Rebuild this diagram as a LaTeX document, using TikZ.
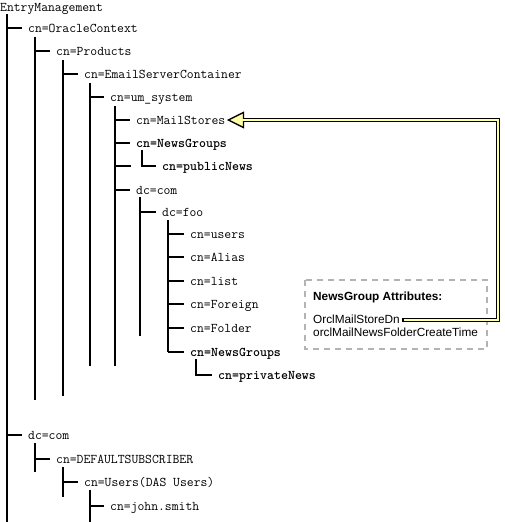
\documentclass[tikz,border=0pt]{standalone}
\usepackage{fontspec}
\setmainfont{Liberation Sans}
\definecolor{arrowyellow}{HTML}{FFFFA8}
\definecolor{boxgray}{HTML}{B3B3B3}
\tikzset{
  entry/.style={anchor=west, inner sep=0pt, text height=10pt, text depth=2pt,
                font=\ttfamily\fontsize{13.3}{15}\selectfont},
  bentry/.style={entry, font=\ttfamily\bfseries\fontsize{13.3}{15}\selectfont},
  attr/.style={anchor=base west, inner sep=0pt, font=\fontsize{11.8}{14}\selectfont},
  battr/.style={attr, font=\bfseries\fontsize{11.8}{14}\selectfont},
  tree/.style={line width=1.1pt, black},
  attrbox/.style={draw=boxgray, line width=2.4pt, dash pattern=on 6pt off 5pt},
}
\begin{document}
\begin{tikzpicture}[x=1pt,y=-1pt]
\useasboundingbox (0,0) rectangle (504,522);
% ---- entries
\node[entry]  (em)  at (0,7)    {EntryManagement};
\node[entry]  (oc)  at (28,28)  {cn=OracleContext};
\node[entry]  (pr)  at (56,51)  {cn=Products};
\node[entry]  (esc) at (84,74)  {cn=EmailServerContainer};
\node[entry]  (um)  at (110,97) {cn=um\_system};
\node[entry]  (ms)  at (136,120) {cn=MailStores};
\node[bentry] (ng1) at (136,143) {cn=NewsGroups};
\node[bentry] (pn)  at (162,166) {cn=publicNews};
\node[entry]  (dc1) at (136,190) {dc=com};
\node[entry]  (foo) at (162,212) {dc=foo};
\node[entry]  (us)  at (190,234) {cn=users};
\node[entry]  (al)  at (190,257) {cn=Alias};
\node[entry]  (li)  at (190,281) {cn=list};
\node[entry]  (fo)  at (190,304) {cn=Foreign};
\node[entry]  (fd)  at (190,328) {cn=Folder};
\node[bentry] (ng2) at (190,352) {cn=NewsGroups};
\node[bentry] (prn) at (218,375) {cn=privateNews};
\node[entry]  (dc2) at (28,435) {dc=com};
\node[entry]  (ds)  at (56,459) {cn=DEFAULTSUBSCRIBER};
\node[entry]  (dsu) at (84,482) {cn=Users(DAS Users)};
\node[entry]  (js)  at (110,506) {cn=john.smith};
% ---- vertical tree lines
\coordinate (v0t) at (7,14);    \coordinate (v0b) at (7,522);
\coordinate (v1t) at (35,37);   \coordinate (v1b) at (35,400);
\coordinate (v2t) at (63,60);   \coordinate (v2b) at (63,396);
\coordinate (v3t) at (90,83);   \coordinate (v3b) at (90,366);
\coordinate (v4t) at (115,106); \coordinate (v4b) at (115,366);
\coordinate (c1t) at (142,150);
\coordinate (v5t) at (140,197); \coordinate (v5b) at (140,336);
\coordinate (v6t) at (168,220); \coordinate (v6b) at (168,352);
\coordinate (c2t) at (196,359);
\coordinate (w1t) at (35,443);  \coordinate (w1b) at (35,472);
\coordinate (w2t) at (63,467);  \coordinate (w2b) at (63,497);
\coordinate (w3t) at (90,490);  \coordinate (w3b) at (90,522);
\foreach \v in {v0,v1,v2,v3,v4,v5,v6,w1,w2,w3}
  \draw[tree] (\v t) -- (\v b);
% ---- ticks
\foreach \v/\n in {v0/oc, v0/dc2, v1/pr, v2/esc, v3/um, v4/ms, v4/ng1, v4/dc1,
                   v5/foo, v6/us, v6/al, v6/li, v6/fo, v6/fd, v6/ng2,
                   w1/ds, w2/dsu, w3/js}
  \draw[tree] (\v t |- \n.west) -- ([xshift=-6pt]\n.west);
\coordinate (empty) at (131,166);
\draw[tree] (v4t |- empty) -- (empty);
\draw[tree] (c1t) |- ([xshift=-6pt]pn.west);
\draw[tree] (c2t) |- ([xshift=-6pt]prn.west);
% ---- attribute box
\draw[attrbox] (305,280) rectangle (487,349);
\node[battr] (ah) at (313,300) {NewsGroup Attributes:};
\node[attr]  (a1) at (313,323) {OrclMailStoreDn};
\node[attr]  (a2) at (313,336.5) {orclMailNewsFolderCreateTime};
% ---- arrow
\coordinate (rc) at (498,0);
\coordinate (tip) at ([xshift=3pt]ms.east);
\coordinate (hb) at ([xshift=15pt]tip);
\coordinate (st) at ([xshift=2pt]a1.east |- 0,320);
\draw[line width=4.8pt, line join=miter] (st) -| (rc |- tip) -- (hb);
\filldraw[fill=arrowyellow, line width=1.3pt, line join=miter]
  (tip) -- ([yshift=-7.5pt]hb) -- ([yshift=7.5pt]hb) -- cycle;
\draw[line width=2pt, arrowyellow, line join=miter]
  ([xshift=1.6pt]st) -| (rc |- tip) -- ([xshift=-1.5pt]hb);
\end{tikzpicture}
\end{document}
